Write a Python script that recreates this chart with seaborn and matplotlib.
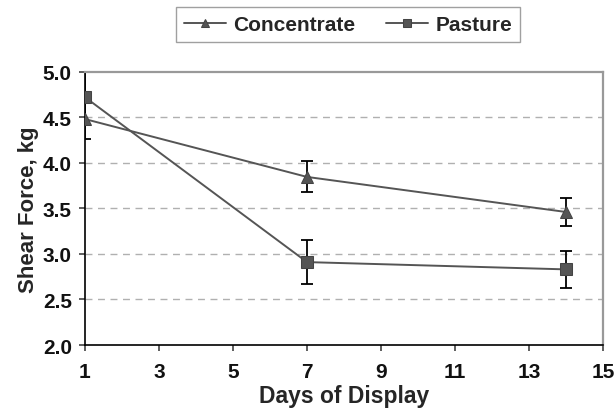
import matplotlib
matplotlib.use("Agg")
import matplotlib.pyplot as plt
import seaborn as sns
import pandas as pd

days = [1, 7, 14]
concentrate = [4.48, 3.845, 3.46]
concentrate_err = [0.22, 0.17, 0.15]
pasture = [4.72, 2.91, 2.83]
pasture_err = [0.31, 0.24, 0.20]
series_names = ["Concentrate", "Pasture"]
x_ticks = [1, 3, 5, 7, 9, 11, 13, 15]
y_ticks = [2.0, 2.5, 3.0, 3.5, 4.0, 4.5, 5.0]

sns.set_style("white")
plt.rcParams['font.family'] = ['Liberation Sans', 'DejaVu Sans']
plt.rcParams['font.weight'] = 'bold'

df = pd.DataFrame({
    "day": days * 2,
    "value": concentrate + pasture,
    "group": [series_names[0]] * 3 + [series_names[1]] * 3,
})

W, H = 616, 414
fig = plt.figure(figsize=(W / 100, H / 100), dpi=100)
ax = fig.add_axes([85 / W, 1 - 346 / H, (603 - 85) / W, (346 - 72.7) / H])

for y in y_ticks[1:-1]:
    ax.axhline(y, color="#b0b0b0", lw=1, ls=(0, (5, 4)), zorder=0)

ax.errorbar(days, concentrate, yerr=concentrate_err, fmt="none", ecolor="black",
            elinewidth=1.3, capsize=4, capthick=1.3, zorder=2)
ax.errorbar(days, pasture, yerr=pasture_err, fmt="none", ecolor="black",
            elinewidth=1.3, capsize=4, capthick=1.3, zorder=2)

sns.lineplot(data=df, x="day", y="value", hue="group", style="group",
             markers={"Concentrate": "^", "Pasture": "s"}, dashes=False,
             palette={"Concentrate": "#555555", "Pasture": "#555555"},
             markersize=8.5, markeredgecolor="#444444", linewidth=1.4,
             ax=ax, zorder=3)

ax.set_xlim(1, 15)
ax.set_ylim(2.0, 5.0)
ax.set_xticks(x_ticks)
ax.set_yticks(y_ticks)
ax.set_xticklabels([str(v) for v in x_ticks], fontsize=15, fontweight="heavy", color="#111111")
ax.set_yticklabels([f"{v:.1f}" for v in y_ticks], fontsize=15, fontweight="heavy", color="#111111")
ax.tick_params(axis="both", direction="out", length=4.5, width=1.1,
               color="#333333", bottom=True, left=True)
ax.tick_params(axis="x", pad=8)
ax.tick_params(axis="y", pad=5)

ax.set_xlabel("Days of Display", fontsize=16.5, fontweight="bold", labelpad=2)
ax.set_ylabel("Shear Force, kg", fontsize=16, fontweight="bold", labelpad=3)

for side in ["left", "bottom"]:
    ax.spines[side].set_color("black")
    ax.spines[side].set_linewidth(1.2)
for side in ["top", "right"]:
    ax.spines[side].set_color("#999999")
    ax.spines[side].set_linewidth(1.6)
ax.spines["left"].set_zorder(1)

handles, labels = ax.get_legend_handles_labels()
leg = ax.legend(handles, labels, loc="center", bbox_to_anchor=(348 / W, 1 - 25.5 / H),
                bbox_transform=fig.transFigure,
                ncol=2, frameon=True, fancybox=False, edgecolor="#888888",
                prop={"weight": "bold", "size": 15}, handlelength=2.0,
                markerscale=0.65, columnspacing=1.5, handletextpad=0.35,
                borderpad=0.4)
leg.get_frame().set_linewidth(1.0)

fig.savefig("out.png", dpi=100)
